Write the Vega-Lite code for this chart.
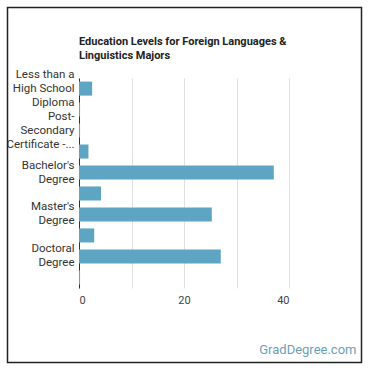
{
  "$schema": "https://vega.github.io/schema/vega-lite/v6.json",
  "autosize": "none",
  "padding": {"left": 79, "top": 78, "right": 81, "bottom": 82},
  "width": 210,
  "height": 210,
  "background": "white",
  "title": {
    "text": ["Education Levels for Foreign Languages &", "Linguistics Majors"],
    "anchor": "start",
    "frame": "group",
    "font": "Roboto",
    "fontSize": 11,
    "fontWeight": "bold",
    "color": "#222",
    "lineHeight": 14,
    "offset": -54
  },
  "config": {
    "view": {"stroke": null},
    "font": "Roboto"
  },
  "layer": [
    {
      "data": {
        "values": [
          {"level": "Less than a High School Diploma", "percent": 2.5},
          {"level": "High School Diploma", "percent": 0.2},
          {"level": "Post-Secondary Certificate - Less Than 1 Year", "percent": 0.2},
          {"level": "Associate's Degree", "percent": 1.8},
          {"level": "Bachelor's Degree", "percent": 37.1},
          {"level": "Post-Baccalaureate Certificate", "percent": 4.2},
          {"level": "Master's Degree", "percent": 25.3},
          {"level": "Post-Master's Certificate", "percent": 2.9},
          {"level": "Doctoral Degree", "percent": 27.0},
          {"level": "Post-Doctoral Training", "percent": 0.2}
        ]
      },
      "mark": {"type": "bar", "color": "#5ea5c4"},
      "encoding": {
        "y": {
          "field": "level",
          "type": "nominal",
          "sort": null,
          "scale": {"paddingInner": 0.33, "paddingOuter": 0.17},
          "axis": {
            "title": null,
            "ticks": false,
            "domainColor": "#333",
            "domainWidth": 1,
            "labelFont": "Roboto",
            "labelFontSize": 11.5,
            "labelColor": "#333",
            "labelPadding": 5,
            "labelLineHeight": 14,
            "labelLimit": 0,
            "labelOverlap": false,
            "labelOffset": {
              "condition": {
                "test": "datum.value == 'Less than a High School Diploma' || datum.value == 'Post-Secondary Certificate - Less Than 1 Year'",
                "value": -14
              },
              "value": -7
            },
            "labelExpr": "datum.value == 'Less than a High School Diploma' ? ['Less than a', 'High School', 'Diploma'] : datum.value == 'Post-Secondary Certificate - Less Than 1 Year' ? ['Post-', 'Secondary', 'Certificate -...'] : datum.value == 'Bachelor\\'s Degree' ? ['Bachelor\\'s', 'Degree'] : datum.value == 'Master\\'s Degree' ? ['Master\\'s', 'Degree'] : datum.value == 'Doctoral Degree' ? ['Doctoral', 'Degree'] : ''"
          }
        },
        "x": {
          "field": "percent",
          "type": "quantitative",
          "scale": {"domain": [0, 40]},
          "axis": {
            "values": [0, 10, 20, 30, 40],
            "labelExpr": "datum.value % 20 == 0 ? datum.label : ''",
            "domain": false,
            "ticks": false,
            "gridColor": "#e0e0e0",
            "labelFont": "Roboto",
            "labelFontSize": 11,
            "labelColor": "#444",
            "labelPadding": 6,
            "title": "GradDegree.com",
            "titleFont": "Roboto",
            "titleFontSize": 13,
            "titleFontWeight": "normal",
            "titleColor": "#6b9fb8",
            "titleAlign": "right",
            "titleAnchor": null,
            "titleBaseline": "alphabetic",
            "titleX": 277,
            "titleY": 65
          }
        }
      }
    },
    {
      "data": {"values": [{}]},
      "mark": {"type": "rect", "fill": null, "stroke": "#222", "strokeWidth": 1.5},
      "encoding": {
        "x": {"value": -71.5},
        "x2": {"value": 282.5},
        "y": {"value": -70.5},
        "y2": {"value": 284.5}
      }
    }
  ]
}
